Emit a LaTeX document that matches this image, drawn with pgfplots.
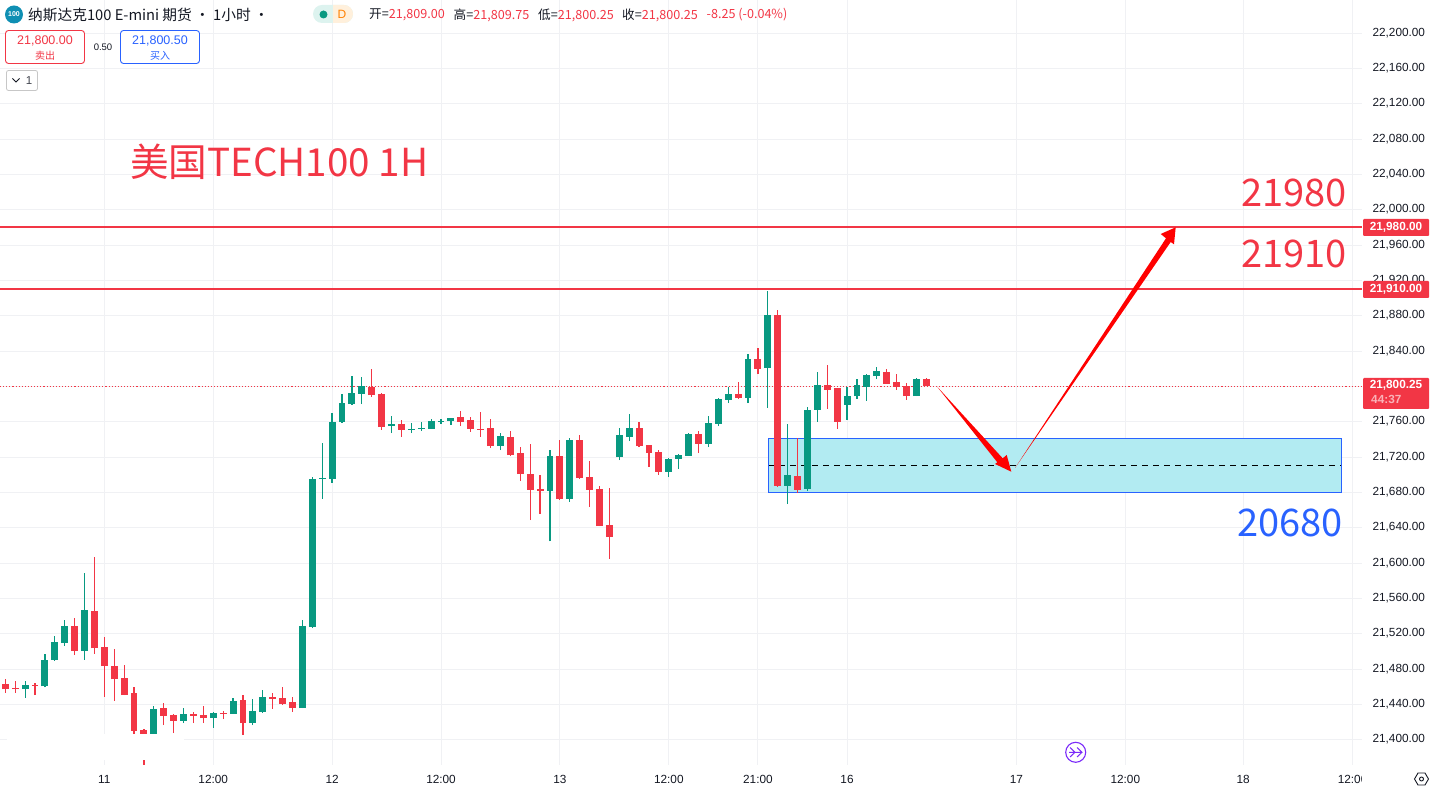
\documentclass[border=0pt]{standalone}
\usepackage{pgfplots}
\usepackage{pgfplotstable}
\usepackage{fontspec}
\pgfplotsset{compat=1.18}
\setmainfont{Liberation Sans}
\newfontfamily\cjk{Noto Sans CJK SC}
\definecolor{tvred}{HTML}{F23645}
\definecolor{tvgreen}{HTML}{089981}
\definecolor{tvblue}{HTML}{2962FF}
\definecolor{tvgrid}{HTML}{F0F1F4}
\definecolor{tvtext}{HTML}{131722}
\definecolor{boxfill}{HTML}{B2EBF2}
\definecolor{iconblue}{HTML}{0F8FB3}
\definecolor{pillg}{HTML}{DDF3EF}
\definecolor{pillo}{HTML}{FFF0DC}
\definecolor{tvpurple}{HTML}{7B2BF9}
\newcommand{\fs}[1]{\fontsize{#1}{#1}\selectfont}
\pgfplotstableread{
x hi lo top bot
2 21466.7 21447.7 21462.7 21457.7
4 21497.7 21459.7 21490.7 21460.7
5 21517.7 21489.7 21510.7 21490.7
6 21535.7 21506.7 21528.7 21509.7
8 21588.9 21490.7 21546.7 21500.7
15 21438.7 21406.7 21435.2 21406.7
18 21436.2 21419.2 21429.7 21421.7
21 21431.7 21413.7 21430.7 21424.7
23 21447.7 21429.7 21444.2 21429.7
25 21446.7 21416.7 21432.7 21419.2
26 21456.7 21430.7 21448.7 21431.7
30 21535.7 21436.2 21528.7 21436.2
31 21697.7 21526.7 21695.5 21527.7
32 21736.1 21673.1 21696.6 21695.6
33 21770.3 21691.1 21760.3 21695.5
34 21791.3 21758.9 21781.3 21760.3
35 21812.3 21779.3 21792.8 21780.3
36 21810.9 21780.3 21800.7 21791.7
39 21766.8 21747.3 21757.8 21755.3
41 21758.9 21747.3 21752.1 21751
42 21760.3 21749.9 21753.3 21752.1
43 21763.3 21752.1 21761.3 21752.1
44 21763.3 21757.8 21761.3 21760.3
45 21764.6 21756.7 21764.6 21761.3
50 21747.4 21728.1 21744.1 21732.7
55 21728.1 21624.9 21721.4 21682.1
57 21741.8 21669.5 21739.5 21673.1
62 21753.3 21716.9 21745.1 21720.1
63 21769.1 21738.4 21753.3 21742.9
67 21719.1 21697.7 21718.1 21703.4
68 21723.7 21706.8 21722.6 21718.1
69 21747.4 21721.5 21746.1 21721.5
71 21766.8 21731.6 21758.9 21735.1
72 21787.3 21755.3 21786.1 21757.8
73 21799.6 21781.3 21791.7 21784.9
75 21836.9 21781.3 21831.3 21787.3
77 21908.3 21775.9 21881.2 21821.1
79 21757.8 21667.1 21700.1 21687.6
81 21777 21681.9 21773.6 21684.1
82 21816.6 21760.1 21801.9 21773.6
85 21799.6 21762.3 21789.3 21779.3
86 21808.6 21786.1 21801.9 21789.3
87 21814.3 21783.8 21813.2 21799.6
88 21822.3 21808.6 21817.7 21812
92 21809.8 21789.3 21808.6 21789.3
}\greentable
\pgfplotstableread{
x hi lo top bot
0 21468.7 21453.7 21463.7 21457.7
1 21466.7 21453.7 21458.7 21457.7
3 21464.7 21450.7 21462.7 21461.7
7 21537.7 21496.2 21528.7 21500.7
9 21606.9 21497.7 21545.7 21503.7
10 21516.7 21448.7 21505.2 21483.7
11 21502.7 21444.2 21483.7 21468.7
12 21484.7 21450.7 21470.2 21450.7
13 21459.7 21406.7 21453.2 21410.2
14 21412.7 21372.2 21411.7 21406.7
16 21441.7 21416.7 21436.2 21427.2
17 21429.7 21407.7 21428.2 21421.7
19 21431.7 21419.2 21429.7 21427.2
20 21438.7 21419.2 21428.2 21424.7
22 21432.7 21423.7 21431.1 21429.9
24 21450.7 21405.7 21445.2 21419.2
27 21453.2 21435.2 21448.7 21446.7
28 21459.7 21439.7 21447.7 21440.7
29 21448.7 21431.7 21443.2 21436.2
37 21819.9 21788.3 21800 21790.3
38 21792.8 21751 21791.7 21754.3
40 21762.3 21743.1 21757.8 21751
46 21772.3 21755.3 21765.7 21760.3
47 21765.7 21748.8 21762.3 21752.1
48 21771.3 21743.1 21752.1 21751
49 21763.3 21730.5 21753.3 21732.7
51 21749.9 21721.4 21742.9 21722.6
52 21731.6 21693.1 21724.8 21701.1
53 21735.1 21648.9 21701.1 21683.1
54 21700.1 21656.1 21684.1 21682.1
56 21739.5 21671.7 21721.4 21673.1
58 21745.1 21695.5 21739.5 21696.6
59 21715.8 21663.8 21697.7 21683.1
60 21687.5 21642.2 21684.1 21642.2
61 21685.1 21604.9 21643.3 21629.7
64 21760.1 21731.6 21753.3 21732.8
65 21733.9 21709.1 21733.9 21724.8
66 21728.1 21700.1 21726.1 21703.4
70 21749.7 21724.8 21746.1 21735.1
74 21805.3 21786.1 21791.7 21787.3
76 21843.7 21814.3 21831.3 21819.9
78 21886.8 21686.4 21881.2 21687.6
80 21741.8 21679.6 21698.9 21683.1
83 21824.3 21774.8 21801.9 21796.3
84 21798.3 21752.3 21798.3 21760.1
89 21819.9 21803 21816.6 21803
90 21814.3 21796.3 21805.3 21799.6
91 21804.1 21784.9 21800.7 21789.3
93 21809.75 21800.25 21809 21800.25
}\redtable
\pgfplotsset{
  wick/.style={draw=none, mark=none, forget plot,
    error bars/.cd, y dir=both, y explicit, error mark=none,
    error bar style={line width=1.2pt, color=#1}},
  body/.style={draw=none, mark=none, forget plot,
    error bars/.cd, y dir=both, y explicit, error mark=none,
    error bar style={line width=6.9pt, color=#1}},
}
\begin{document}
\begin{tikzpicture}
\path[use as bounding box] (0,-25pt) rectangle (1436pt,765pt);
\begin{axis}[
  at={(0,0)}, anchor=south west,
  scale only axis, width=1362pt, height=765pt,
  xmin=-0.535, xmax=137.0, ymin=21371.7, ymax=22237.7,
  axis line style={draw=none}, tick style={draw=none},
  major tick length=0pt,
  grid=major, grid style={tvgrid, line width=1pt},
  xtick={10,21,33,44,56,67,76,85,102.1,113.1,125,136.05},
  xticklabels={11,12:00,12,12:00,13,12:00,21:00,16,17,12:00,18,12:00},
  ytick={21400,21440,21480,21520,21560,21600,21640,21680,21720,21760,21840,21880,21920,21960,22000,22040,22080,22120,22160,22200},
  extra y ticks={21800}, extra y tick labels={},
  scaled y ticks=false,
  yticklabel pos=right,
  y tick label style={anchor=west, xshift=7pt, yshift=0.5pt},
  /pgf/number format/fixed, /pgf/number format/fixed zerofill, /pgf/number format/precision=2, /pgf/number format/1000 sep={,}, /pgf/number format/assume math mode=true,
  x tick label style={yshift=-7pt},
  tick label style={font=\fs{11.8}, text=tvtext},
  clip=true,
]
% zone
\addplot[draw=none, fill=boxfill, forget plot] coordinates {(77.05,21680.4)(134.95,21680.4)(134.95,21741.5)(77.05,21741.5)} -- cycle;
\addplot[black, line width=1pt, dash pattern=on 6pt off 5pt, forget plot] coordinates {(77.05,21711)(134.95,21711)};
\addplot[tvblue, line width=1pt, forget plot] coordinates {(77.05,21680.4)(134.95,21680.4)(134.95,21741.5)(77.05,21741.5)(77.05,21680.4)};
% last price and levels
\addplot[tvred, line width=1.1pt, dash pattern=on 1.1pt off 2pt, forget plot] coordinates {(-0.535,21800.25)(137,21800.25)};
\addplot[tvred, line width=2pt, forget plot] coordinates {(-0.535,21981)(137,21981)};
\addplot[tvred, line width=2pt, forget plot] coordinates {(-0.535,21911)(137,21911)};
% wicks
\addplot[wick=tvgreen] table[x=x, y=lo, y error plus expr=\thisrow{hi}-\thisrow{lo}, y error minus expr=0] {\greentable};
\addplot[wick=tvred] table[x=x, y=lo, y error plus expr=\thisrow{hi}-\thisrow{lo}, y error minus expr=0] {\redtable};
% bodies
\addplot[body=tvgreen] table[x=x, y=bot, y error plus expr=\thisrow{top}-\thisrow{bot}, y error minus expr=0] {\greentable};
\addplot[body=tvred] table[x=x, y=bot, y error plus expr=\thisrow{top}-\thisrow{bot}, y error minus expr=0] {\redtable};
\end{axis}
\begin{scope}[x=1pt, y=-1pt, yshift=765pt]
% covered patch at the bottom left
\fill[white] (7,734.5) rectangle (184,760.5);
% covers right of pane
\fill[white] (1362,766) rectangle (1400,789);
% arrows
\fill[red] (937,386.5) -- (1002.7,458.3) -- (1006.7,455) -- (1011.3,471.7) -- (995,464) -- (997.3,462.3) -- cycle;
\fill[red] (1015,468) -- (1166,238.3) -- (1160.7,234) -- (1175.7,227.3) -- (1174,244.3) -- (1170.7,242) -- cycle;
% big texts
\node[anchor=west, inner sep=0pt, text=tvred, font=\cjk\fs{38.6}] at (130,162) {美国TECH100 1H};
\node[anchor=east, inner sep=0pt, text=tvred, font=\cjk\fs{38}] at (1347,193) {21980};
\node[anchor=east, inner sep=0pt, text=tvred, font=\cjk\fs{38}] at (1347,254) {21910};
\node[anchor=east, inner sep=0pt, text=tvblue, font=\cjk\fs{38}] at (1343,523) {20680};
% price tags
\fill[tvred, rounded corners=1pt] (1363,219) rectangle (1429,236);
\fill[tvred, rounded corners=1pt] (1363,281) rectangle (1429,298);
\fill[tvred, rounded corners=1pt] (1363,378) rectangle (1429,409);
\node[text=white, inner sep=0pt, font=\bfseries\fs{11.8}] at (1396,227.5) {21,980.00};
\node[text=white, inner sep=0pt, font=\bfseries\fs{11.8}] at (1396,289.5) {21,910.00};
\node[text=white, inner sep=0pt, font=\bfseries\fs{11.8}] at (1396,385.5) {21,800.25};
\node[anchor=west, text=white!62!tvred, inner sep=0pt, font=\bfseries\fs{11.8}] at (1371,399.5) {44:37};
% header
\fill[iconblue] (14,14.5) circle (9);
\node[text=white, inner sep=0pt, font=\bfseries\fs{7}] at (14,14.5) {100};
\node[anchor=west, inner sep=0pt, text=tvtext, font=\cjk\fs{14.7}] at (28,15) {纳斯达克100 E-mini 期货 · 1小时 ·};
\fill[pillg, rounded corners=9pt] (313,5) rectangle (353,23);
\begin{scope}
\clip (333,0) rectangle (360,30);
\fill[pillo, rounded corners=9pt] (313,5) rectangle (353,23);
\end{scope}
\fill[tvgreen] (323.5,14.5) circle (4);
\node[inner sep=0pt, text=orange, font=\fs{12}] at (342,14.5) {D};
\node[anchor=west, inner sep=0pt, font=\cjk\fs{12.6}] at (369,15) {\textcolor{tvtext}{开=}\textcolor{tvred}{21,809.00}};
\node[anchor=west, inner sep=0pt, font=\cjk\fs{12.6}] at (453.5,15) {\textcolor{tvtext}{高=}\textcolor{tvred}{21,809.75}};
\node[anchor=west, inner sep=0pt, font=\cjk\fs{12.6}] at (538,15) {\textcolor{tvtext}{低=}\textcolor{tvred}{21,800.25}};
\node[anchor=west, inner sep=0pt, font=\cjk\fs{12.6}] at (622,15) {\textcolor{tvtext}{收=}\textcolor{tvred}{21,800.25}};
\node[anchor=west, inner sep=0pt, font=\cjk\fs{12.6}] at (706.5,15) {\textcolor{tvred}{-8.25 (-0.04\%)}};
% buttons
\draw[tvred, line width=0.9pt, fill=white, rounded corners=3pt] (5.5,30.5) rectangle (84.5,63.5);
\node[text=tvred, inner sep=0pt, font=\fs{12.5}] at (45,40.5) {21,800.00};
\node[text=tvred, inner sep=0pt, font=\cjk\fs{10}] at (45,55.5) {卖出};
\node[text=tvtext, inner sep=0pt, font=\fs{9.5}] at (103,47) {0.50};
\draw[tvblue, line width=0.9pt, fill=white, rounded corners=3pt] (120.5,30.5) rectangle (199.5,63.5);
\node[text=tvblue, inner sep=0pt, font=\fs{12.5}] at (160,40.5) {21,800.50};
\node[text=tvblue, inner sep=0pt, font=\cjk\fs{10}] at (160,55.5) {买入};
\draw[black!22, line width=0.8pt, fill=white, rounded corners=2pt] (6.5,70.5) rectangle (37.5,90.5);
\draw[tvtext, line width=0.9pt] (12.5,78.5) -- (16,82) -- (19.5,78.5);
\node[text=tvtext!80, inner sep=0pt, font=\fs{11.5}] at (29,81) {1};
% bottom icons
\draw[tvpurple, line width=1.1pt, fill=white] (1075.7,752.3) circle (10);
\draw[tvpurple, line width=1pt] (1069,752.3) -- (1082,752.3) (1077,747.5) -- (1082,752.3) -- (1077,757) (1070,747.5) -- (1075,752.3) -- (1070,757);
\draw[tvtext, line width=0.9pt] (1414.5,779) -- (1418,773) -- (1425,773) -- (1428.5,779) -- (1425,785) -- (1418,785) -- cycle;
\draw[tvtext, line width=0.9pt] (1421.5,779) circle (2);
\end{scope}
\end{tikzpicture}
\end{document}
